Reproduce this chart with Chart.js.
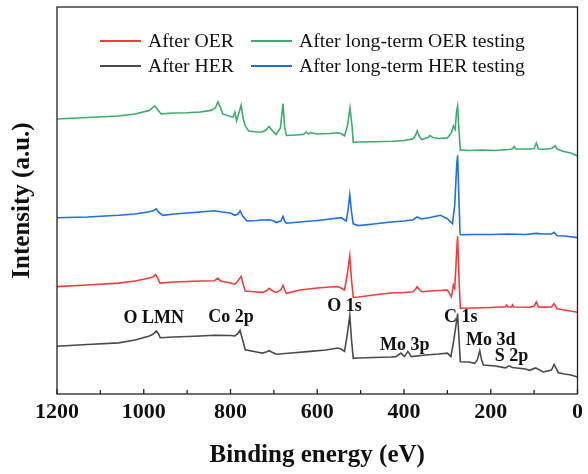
<!DOCTYPE html>
<html>
<head>
<meta charset="utf-8">
<script src="https://cdn.jsdelivr.net/npm/chart.js@4.4.0/dist/chart.umd.min.js"></script>
<style>
  html, body { margin: 0; padding: 0; background: #fff; }
  canvas { display: block; }
</style>
</head>
<body>
<canvas id="xps" width="588" height="474"></canvas>
<script>
// survey spectra (binding energy in eV, intensity in a.u. with offsets)
const oerEnergy = [1200, 1130, 1058, 1020, 987, 979, 973, 968, 963, 930, 900, 870, 837, 829, 823, 800, 790, 785, 775.5, 771,
  766, 740, 727, 718, 711, 703, 695, 684, 679, 675, 671, 640, 600, 570, 553, 545, 537, 531, 525, 521,
  517, 505, 470, 430, 400, 379, 373, 369.7, 365, 359, 340, 320, 300, 290.7, 286.1, 283, 279, 276.4, 273, 270.2,
  240, 200, 175, 166, 164, 160, 152, 150, 147, 110, 100, 95, 90, 79, 60, 54, 47, 30, 0];
const oerIntensity = [107.4, 109, 110.9, 113, 116, 117, 119.4, 116, 110.9, 112, 112.5, 113, 113.3, 116, 113, 111, 109.8, 112, 117.7, 110,
  103, 102, 101.6, 103, 105.7, 103, 101.6, 104, 108.5, 104, 100.6, 104, 106, 107, 107.4, 106, 104, 119, 138.3, 114,
  96.5, 97, 99, 101, 101.5, 102.3, 105, 107.4, 104.5, 102.3, 103, 103.5, 104, 97.2, 109.1, 105.7, 139, 157.8, 114, 85.8,
  86, 86.5, 87, 87, 89, 87, 87, 89, 87, 86.8, 88, 92, 87, 86.9, 87, 90.3, 85.2, 84, 81.7];

const ltOerEnergy = [1200, 1130, 1058, 1020, 987, 980, 975, 969, 960, 930, 900, 870, 845, 835, 829, 823, 818, 800, 794, 790,
  786, 780, 775.5, 771, 766, 758, 740, 727, 718, 711, 703, 695, 685, 679, 675, 671, 650, 632, 625, 620,
  615, 600, 570, 553, 545, 537, 530, 524.5, 520, 517, 505, 470, 427, 400, 379, 373, 369.7, 365, 359, 345,
  340, 334, 320, 300, 290.7, 286.1, 282, 279, 276.4, 274, 270.2, 250, 220, 190, 160, 150, 146, 142, 111, 100,
  95, 90, 79, 60, 55, 51.4, 47, 32, 15, 0];
const ltOerIntensity = [275, 276.5, 278, 280, 283.6, 286, 288, 285, 280.1, 281, 281.2, 282, 283.6, 286, 292.1, 286, 280.1, 277.5, 277, 282,
  273.3, 282, 288.7, 276, 268.1, 263, 262, 262, 264, 267.5, 263, 259.6, 266, 290.4, 266, 258.5, 259, 259.6, 262, 260,
  261.5, 260, 260.5, 261.3, 260.5, 258, 269, 286, 269, 251.7, 252, 252.2, 252.7, 253.5, 255.1, 259, 263, 258, 254.4, 256.5,
  258.5, 256.5, 255.5, 256.1, 261.3, 268.1, 264.7, 282, 288, 269, 244.1, 243.5, 244, 243.5, 244.5, 245, 247.6, 245, 245, 245.5,
  251, 245, 244.8, 245.5, 247, 248.3, 245, 242.4, 241, 238];

const herEnergy = [1200, 1130, 1058, 1020, 987, 978, 971, 966, 962, 930, 900, 870, 837, 800, 790, 784, 778, 772, 766, 740,
  727, 718, 711, 703, 695, 660, 616, 580, 553, 545, 537, 531, 525, 521, 517, 505, 470, 430, 418.5, 407,
  399, 391, 383, 350, 320, 300, 292, 287, 280, 276.4, 273, 270.2, 250, 237, 231, 225.3, 221, 217, 190, 166,
  158, 150, 120, 110.6, 96.5, 79, 60, 54, 44, 30, 15, 0];
const herIntensity = [47.7, 49.5, 51.1, 54, 58, 60, 63.1, 60, 56.3, 57, 57.5, 58, 58.7, 58.5, 58, 60, 63.8, 54, 44.3, 42,
  40.9, 42, 43.3, 41.5, 39.8, 41, 42.6, 44, 46, 45, 42.6, 59, 78.6, 54, 35.7, 36, 36.5, 37, 37.4, 40.9,
  37.4, 42.6, 37.4, 39, 40, 40.9, 37.4, 49, 69, 80.3, 54, 32.3, 32, 30.6, 34, 43.3, 34, 28.9, 28, 26.1,
  28.2, 26.5, 25, 23.7, 26.1, 22, 24, 29.5, 21.3, 20, 19, 16.9];

const ltHerEnergy = [1200, 1130, 1058, 1020, 987, 977, 971, 966, 956, 930, 900, 870, 837, 820, 800, 790, 783, 777.8, 772, 762,
  740, 727, 711, 700, 695, 684, 679, 675, 671, 640, 600, 570, 545, 533, 529, 525, 521, 517, 505, 470,
  430, 400, 379, 370, 360, 340, 316, 300, 288.4, 283, 278.5, 276.4, 274, 271, 270, 240, 200, 160, 120, 95,
  80, 60, 54, 47, 30, 0];
const ltHerIntensity = [176.3, 177, 178.7, 180, 182.2, 183.5, 185.2, 182, 178.7, 180, 181, 182, 183.2, 182, 181, 178.7, 180, 183.2, 178, 173,
  173.5, 174, 174.3, 173, 171.5, 173, 177.7, 173, 170.8, 172, 173.5, 175, 176.3, 173, 184, 199.3, 182, 170.2, 168.4, 170,
  172, 173, 174.3, 177, 175, 176.5, 178.7, 175.3, 170.2, 189, 229, 238.7, 204, 162, 159.2, 159.5, 159.5, 160, 159.5, 160.6,
  160, 160, 161.6, 158.2, 158, 156.4];

const seriesNames = ['After OER', 'After long-term OER testing', 'After HER', 'After long-term HER testing'];
const seriesColors = ['#f23c3c', '#3aae6a', '#4a4a4a', '#1f6fe4'];

// peak assignments written on the plot
const peakLabels = ['O LMN', 'Co 2p', 'O 1s', 'C 1s', 'Mo 3p', 'Mo 3d', 'S 2p'];
const peakEnergy = [977, 799, 537, 269, 398, 200, 152];
const peakHeight = [76, 77, 88, 77, 49, 54, 38];

const xTicks = [0, 100, 200, 300, 400, 500, 600, 700, 800, 900, 1000, 1100, 1200];

const serif = 'Liberation Serif';

function toPoints(energy, intensity) {
  return energy.map((e, i) => ({ x: e, y: intensity[i] }));
}

const datasets = [
  toPoints(oerEnergy, oerIntensity),
  toPoints(ltOerEnergy, ltOerIntensity),
  toPoints(herEnergy, herIntensity),
  toPoints(ltHerEnergy, ltHerIntensity)
].map((pts, i) => ({
  label: seriesNames[i],
  data: pts,
  borderColor: seriesColors[i],
  backgroundColor: seriesColors[i],
  borderWidth: 1.6,
  pointRadius: 0,
  tension: 0,
  fill: false
}));

// frame, inward ticks, peak labels and legend drawn inside the plot
const decorations = {
  id: 'decorations',
  afterDatasetsDraw(chart) {
    const { ctx, chartArea: a, scales: { x, y } } = chart;
    ctx.save();
    ctx.strokeStyle = '#222';
    ctx.lineWidth = 1.3;
    ctx.strokeRect(a.left, a.top, a.right - a.left, a.bottom - a.top);

    xTicks.forEach(v => {
      const px = x.getPixelForValue(v);
      const len = v % 200 === 0 ? 5 : 4;
      ctx.beginPath();
      ctx.moveTo(px, a.bottom);
      ctx.lineTo(px, a.bottom - len);
      ctx.stroke();
    });

    ctx.fillStyle = '#111';
    ctx.font = 'bold 18px "' + serif + '"';
    ctx.textAlign = 'center';
    ctx.textBaseline = 'middle';
    peakLabels.forEach((t, i) => {
      ctx.fillText(t, x.getPixelForValue(peakEnergy[i]), y.getPixelForValue(peakHeight[i]));
    });

    // 2 x 2 legend
    const lineX = [a.left + 43, a.left + 194];
    const rowY = [a.top + 34, a.top + 59];
    ctx.font = '19.7px "' + serif + '"';
    ctx.textAlign = 'left';
    ctx.lineWidth = 2;
    chart.data.datasets.forEach((ds, i) => {
      const cx = lineX[i % 2];
      const cy = rowY[Math.floor(i / 2)];
      ctx.strokeStyle = ds.borderColor;
      ctx.beginPath();
      ctx.moveTo(cx, cy);
      ctx.lineTo(cx + 41, cy);
      ctx.stroke();
      ctx.fillStyle = '#111';
      ctx.fillText(ds.label, cx + 48, cy + 1);
    });
    ctx.restore();
  }
};

new Chart(document.getElementById('xps'), {
  type: 'line',
  data: { datasets },
  options: {
    responsive: false,
    animation: false,
    layout: { padding: { top: 7, right: 10, left: 0, bottom: 0 } },
    plugins: { legend: { display: false }, tooltip: { enabled: false } },
    scales: {
      x: {
        type: 'linear',
        reverse: true,
        min: 0,
        max: 1200,
        grid: { display: false, drawTicks: false },
        border: { display: false },
        ticks: {
          stepSize: 200,
          autoSkip: false,
          maxRotation: 0,
          padding: 5,
          color: '#111',
          font: { family: serif, size: 22, weight: 'bold' },
          callback: v => String(v)
        },
        title: {
          display: true,
          text: 'Binding energy (eV)',
          color: '#111',
          font: { family: serif, size: 25, weight: 'bold' },
          padding: { top: 0, bottom: 3 }
        },
        afterFit(scale) { scale.height = 80; }
      },
      y: {
        min: 0,
        max: 387,
        grid: { display: false, drawTicks: false },
        border: { display: false },
        ticks: { display: false },
        title: {
          display: true,
          text: 'Intensity (a.u.)',
          color: '#111',
          font: { family: serif, size: 25, weight: 'bold' },
          padding: { top: 8, bottom: 0 }
        },
        afterFit(scale) { scale.width = 57; }
      }
    }
  },
  plugins: [decorations]
});
</script>
</body>
</html>
